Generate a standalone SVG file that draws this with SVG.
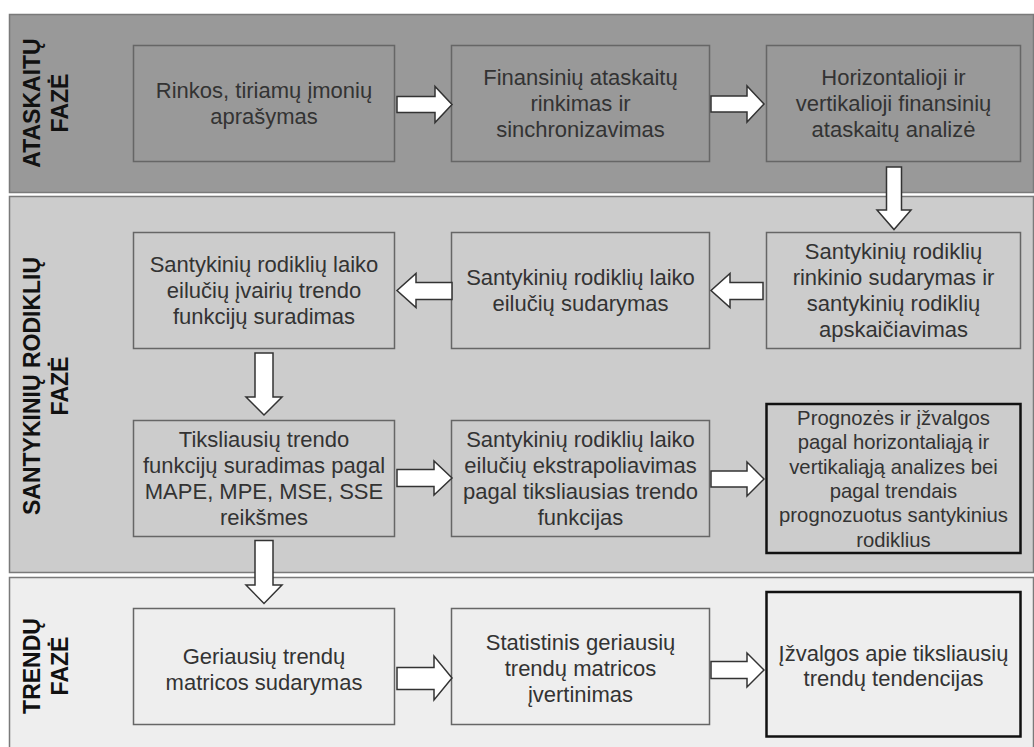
<svg xmlns="http://www.w3.org/2000/svg" width="1034" height="747" viewBox="0 0 1034 747">
<style>
.band{stroke:#7a7a7a;stroke-width:1.5}
.box{fill:none;stroke:#666;stroke-width:1.5}
.tbox{fill:none;stroke:#111;stroke-width:2.5}
.t{font-family:"Liberation Sans",Arial,sans-serif;font-size:22px;fill:#333;text-anchor:middle}
.ts{font-size:20.3px}
.lab{font-family:"Liberation Sans",Arial,sans-serif;font-size:23px;font-weight:bold;fill:#111;text-anchor:middle}
.arr{fill:#fff;stroke:#333;stroke-width:1.5;stroke-linejoin:miter}
</style>
<rect width="1034" height="747" fill="#fff"/>
<g id="phase-ataskaitu">
<rect class="band" x="9.5" y="14.5" width="1024" height="178" fill="#999"/>
<text class="lab" transform="translate(40,103) rotate(-90)"><tspan x="0" y="0">ATASKAITŲ</tspan><tspan x="0" y="28">FAZĖ</tspan></text>
</g>
<g id="phase-santykiniu">
<rect class="band" x="9.5" y="196.5" width="1024" height="376" fill="#ccc"/>
<text class="lab" transform="translate(40,386) rotate(-90)"><tspan x="0" y="0">SANTYKINIŲ RODIKLIŲ</tspan><tspan x="0" y="28">FAZĖ</tspan></text>
</g>
<g id="phase-trendu">
<rect class="band" x="9.5" y="577.5" width="1024" height="190" fill="#eee"/>
<text class="lab" transform="translate(40,666) rotate(-90)"><tspan x="0" y="0">TRENDŲ</tspan><tspan x="0" y="28">FAZĖ</tspan></text>
</g>

<g id="n1">
<rect class="box" x="133.5" y="45.5" width="261" height="116"/>
<text class="t"><tspan x="264" y="98">Rinkos, tiriamų įmonių</tspan><tspan x="264" y="124">aprašymas</tspan></text>
</g>
<g id="n2">
<rect class="box" x="451.5" y="45.5" width="258" height="116"/>
<text class="t"><tspan x="580.5" y="85">Finansinių ataskaitų</tspan><tspan x="580.5" y="111">rinkimas ir</tspan><tspan x="580.5" y="137">sinchronizavimas</tspan></text>
</g>
<g id="n3">
<rect class="box" x="766.5" y="45.5" width="254" height="116"/>
<text class="t"><tspan x="893.5" y="85">Horizontalioji ir</tspan><tspan x="893.5" y="111">vertikalioji finansinių</tspan><tspan x="893.5" y="137">ataskaitų analizė</tspan></text>
</g>

<g id="n4">
<rect class="box" x="766.5" y="232.5" width="254" height="116"/>
<text class="t"><tspan x="893.5" y="259">Santykinių rodiklių</tspan><tspan x="893.5" y="285">rinkinio sudarymas ir</tspan><tspan x="893.5" y="311">santykinių rodiklių</tspan><tspan x="893.5" y="337">apskaičiavimas</tspan></text>
</g>
<g id="n5">
<rect class="box" x="451.5" y="232.5" width="258" height="116"/>
<text class="t"><tspan x="580.5" y="285">Santykinių rodiklių laiko</tspan><tspan x="580.5" y="311">eilučių sudarymas</tspan></text>
</g>
<g id="n6">
<rect class="box" x="133.5" y="232.5" width="261" height="116"/>
<text class="t"><tspan x="264" y="272">Santykinių rodiklių laiko</tspan><tspan x="264" y="298">eilučių įvairių trendo</tspan><tspan x="264" y="324">funkcijų suradimas</tspan></text>
</g>

<g id="n7">
<rect class="box" x="133.5" y="420.5" width="261" height="116"/>
<text class="t"><tspan x="264" y="447">Tiksliausių trendo</tspan><tspan x="264" y="473">funkcijų suradimas pagal</tspan><tspan x="264" y="499">MAPE, MPE, MSE, SSE</tspan><tspan x="264" y="525">reikšmes</tspan></text>
</g>
<g id="n8">
<rect class="box" x="451.5" y="420.5" width="258" height="116"/>
<text class="t"><tspan x="580.5" y="447">Santykinių rodiklių laiko</tspan><tspan x="580.5" y="473">eilučių ekstrapoliavimas</tspan><tspan x="580.5" y="499">pagal tiksliausias trendo</tspan><tspan x="580.5" y="525">funkcijas</tspan></text>
</g>
<g id="n9">
<rect class="tbox" x="766.5" y="404" width="254" height="149"/>
<text class="t ts"><tspan x="893.5" y="425">Prognozės ir įžvalgos</tspan><tspan x="893.5" y="449.3">pagal horizontaliąją ir</tspan><tspan x="893.5" y="473.6">vertikaliąją analizes bei</tspan><tspan x="893.5" y="497.9">pagal trendais</tspan><tspan x="893.5" y="522.2">prognozuotus santykinius</tspan><tspan x="893.5" y="546.5">rodiklius</tspan></text>
</g>

<g id="n10">
<rect class="box" x="133.5" y="608.5" width="261" height="116"/>
<text class="t"><tspan x="264" y="664">Geriausių trendų</tspan><tspan x="264" y="690">matricos sudarymas</tspan></text>
</g>
<g id="n11">
<rect class="box" x="451.5" y="608.5" width="258" height="116"/>
<text class="t"><tspan x="580.5" y="650">Statistinis geriausių</tspan><tspan x="580.5" y="676">trendų matricos</tspan><tspan x="580.5" y="702">įvertinimas</tspan></text>
</g>
<g id="n12">
<rect class="tbox" x="766.5" y="592" width="254" height="144.5"/>
<text class="t"><tspan x="893.5" y="661">Įžvalgos apie tiksliausių</tspan><tspan x="893.5" y="686">trendų tendencijas</tspan></text>
</g>

<g id="connectors">
<polygon class="arr" points="397,96.5 435,96.5 435,86.5 452,104.5 435,122.5 435,112.5 397,112.5"/>
<polygon class="arr" points="711,96 747,96 747,86 764,104 747,122 747,112 711,112"/>
<polygon class="arr" points="886.5,167 901.5,167 901.5,210 911,210 894,229.5 877,210 886.5,210"/>
<polygon class="arr" points="763,282.5 730,282.5 730,273.5 711,290.5 730,307.5 730,299.5 763,299.5"/>
<polygon class="arr" points="452,282.5 416,282.5 416,273.5 397,290.5 416,307.5 416,299.5 452,299.5"/>
<polygon class="arr" points="255,353 273,353 273,397 282,397 264,415 246,397 255,397"/>
<polygon class="arr" points="397,469.5 434,469.5 434,461 452,478 434,495 434,486.5 397,486.5"/>
<polygon class="arr" points="711,471 747,471 747,462 764,479 747,496 747,487 711,487"/>
<polygon class="arr" points="255,540.5 273,540.5 273,585 282,585 264,603.5 246,585 255,585"/>
<polygon class="arr" points="397,667.5 434,667.5 434,656 452,678 434,700 434,689.5 397,689.5"/>
<polygon class="arr" points="711,661.5 747,661.5 747,653 764,670 747,687 747,678.5 711,678.5"/>
</g>
</svg>
